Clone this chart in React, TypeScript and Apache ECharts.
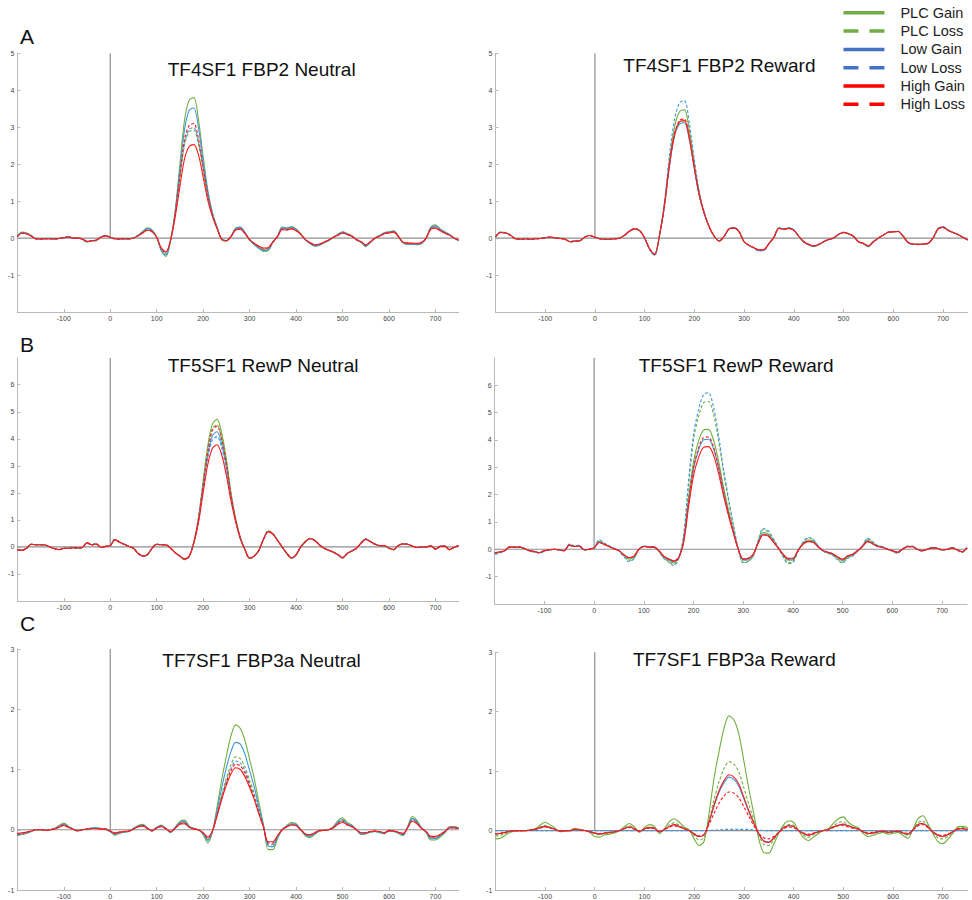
import React, { useEffect, useRef } from "react";
import * as echarts from "echarts";

// ---- time axis (ms), sampled every 10 ms from -200 to 750 ----
const TIMES: number[] = [];
for (let t = -200; t <= 750; t += 10) TIMES.push(t);

const SERIES_NAMES = ["PLC Gain", "PLC Loss", "Low Gain", "Low Loss", "High Gain", "High Loss"];
const PANEL_TITLES = [
  "TF4SF1 FBP2 Neutral", "TF4SF1 FBP2 Reward",
  "TF5SF1 RewP Neutral", "TF5SF1 RewP Reward",
  "TF7SF1 FBP3a Neutral", "TF7SF1 FBP3a Reward",
];
const ROW_LETTERS = ["A", "B", "C"];
const Y_MIN = [-2, -2, -2, -2, -1, -1];
const Y_MAX = [5, 5, 7, 7, 3, 3];
const X_MIN = -200;
const X_MAX = 750;

// ---------------- Panel A, Neutral ----------------
const AN_PLC_GAIN = [0.05, 0.16, 0.14, 0.07, -0.02, -0.03, -0.02, -0.02, -0.03, -0.01,
  0.01, 0.04, 0.00, 0.00, -0.03, -0.11, -0.08, -0.07, 0.03, 0.07,
  0.02, -0.02, -0.03, -0.02, -0.03, 0.00, 0.08, 0.18, 0.28, 0.22,
  0.02, -0.35, -0.50, -0.05, 0.77, 2.00, 3.20, 3.74, 3.80, 3.20,
  2.20, 1.30, 0.68, 0.30, -0.05, -0.08, 0.05, 0.27, 0.30, 0.15,
  -0.05, -0.18, -0.28, -0.36, -0.34, -0.12, 0.05, 0.30, 0.28, 0.31,
  0.25, 0.12, -0.05, -0.15, -0.22, -0.20, -0.13, -0.07, 0.02, 0.10,
  0.17, 0.12, 0.06, -0.05, -0.12, -0.23, -0.12, 0.00, 0.07, 0.15,
  0.17, 0.20, 0.05, -0.13, -0.17, -0.17, -0.18, -0.15, 0.00, 0.30,
  0.36, 0.25, 0.17, 0.10, 0.00, -0.07];
const AN_PLC_LOSS = [0.05, 0.14, 0.13, 0.06, -0.02, -0.03, -0.02, -0.02, -0.02, -0.01,
  0.01, 0.03, 0.00, 0.00, -0.03, -0.10, -0.07, -0.06, 0.03, 0.06,
  0.02, -0.02, -0.03, -0.02, -0.02, 0.00, 0.07, 0.16, 0.24, 0.19,
  0.02, -0.30, -0.42, -0.05, 0.65, 1.62, 2.52, 2.88, 2.92, 2.52,
  1.82, 1.12, 0.62, 0.27, -0.03, -0.07, 0.05, 0.25, 0.27, 0.14,
  -0.04, -0.16, -0.25, -0.31, -0.30, -0.11, 0.04, 0.26, 0.25, 0.28,
  0.23, 0.11, -0.04, -0.13, -0.20, -0.18, -0.12, -0.06, 0.02, 0.09,
  0.15, 0.11, 0.05, -0.04, -0.11, -0.20, -0.11, 0.00, 0.06, 0.13,
  0.15, 0.18, 0.05, -0.12, -0.15, -0.15, -0.16, -0.13, 0.00, 0.27,
  0.32, 0.23, 0.15, 0.09, 0.00, -0.06];
const AN_LOW_GAIN = [0.05, 0.15, 0.13, 0.06, -0.02, -0.03, -0.02, -0.02, -0.03, -0.01,
  0.01, 0.04, 0.00, 0.00, -0.03, -0.10, -0.08, -0.06, 0.03, 0.07,
  0.02, -0.02, -0.03, -0.02, -0.03, 0.00, 0.07, 0.17, 0.26, 0.21,
  0.02, -0.33, -0.46, -0.05, 0.72, 1.85, 2.95, 3.46, 3.52, 2.98,
  2.08, 1.25, 0.66, 0.29, -0.04, -0.08, 0.05, 0.26, 0.29, 0.14,
  -0.05, -0.17, -0.27, -0.34, -0.32, -0.11, 0.05, 0.28, 0.27, 0.30,
  0.24, 0.11, -0.05, -0.14, -0.21, -0.19, -0.12, -0.07, 0.02, 0.10,
  0.16, 0.11, 0.06, -0.05, -0.11, -0.22, -0.11, 0.00, 0.07, 0.14,
  0.16, 0.19, 0.05, -0.12, -0.16, -0.16, -0.17, -0.14, 0.00, 0.28,
  0.33, 0.24, 0.16, 0.10, 0.00, -0.07];
const AN_LOW_LOSS = [0.05, 0.14, 0.12, 0.06, -0.02, -0.03, -0.02, -0.02, -0.03, -0.01,
  0.01, 0.04, 0.00, 0.00, -0.03, -0.10, -0.07, -0.06, 0.03, 0.06,
  0.02, -0.02, -0.03, -0.02, -0.02, 0.00, 0.07, 0.16, 0.25, 0.20,
  0.02, -0.31, -0.44, -0.05, 0.66, 1.65, 2.58, 2.95, 2.98, 2.60,
  1.90, 1.15, 0.63, 0.27, -0.03, -0.07, 0.05, 0.25, 0.28, 0.14,
  -0.04, -0.16, -0.26, -0.33, -0.31, -0.11, 0.04, 0.27, 0.26, 0.29,
  0.23, 0.11, -0.05, -0.13, -0.20, -0.19, -0.12, -0.06, 0.02, 0.09,
  0.16, 0.11, 0.05, -0.05, -0.11, -0.21, -0.11, 0.00, 0.06, 0.14,
  0.15, 0.18, 0.05, -0.12, -0.15, -0.16, -0.16, -0.14, 0.00, 0.28,
  0.32, 0.23, 0.15, 0.09, 0.00, -0.06];
const AN_HIGH_GAIN = [0.04, 0.13, 0.11, 0.05, -0.02, -0.02, -0.02, -0.02, -0.02, -0.01,
  0.01, 0.03, 0.00, 0.00, -0.02, -0.09, -0.07, -0.05, 0.02, 0.06,
  0.02, -0.02, -0.02, -0.02, -0.02, 0.00, 0.06, 0.14, 0.21, 0.17,
  0.02, -0.27, -0.37, -0.05, 0.58, 1.40, 2.15, 2.48, 2.53, 2.25,
  1.65, 1.02, 0.58, 0.25, -0.03, -0.07, 0.04, 0.22, 0.24, 0.12,
  -0.04, -0.14, -0.22, -0.27, -0.26, -0.10, 0.04, 0.23, 0.22, 0.25,
  0.20, 0.10, -0.04, -0.12, -0.18, -0.16, -0.11, -0.05, 0.02, 0.08,
  0.13, 0.10, 0.05, -0.04, -0.10, -0.18, -0.10, 0.00, 0.05, 0.12,
  0.14, 0.16, 0.04, -0.11, -0.13, -0.14, -0.14, -0.12, 0.00, 0.24,
  0.27, 0.20, 0.13, 0.08, 0.00, -0.05];
const AN_HIGH_LOSS = [0.04, 0.13, 0.12, 0.06, -0.02, -0.03, -0.02, -0.02, -0.02, -0.01,
  0.01, 0.03, 0.00, 0.00, -0.03, -0.09, -0.07, -0.06, 0.02, 0.06,
  0.02, -0.02, -0.03, -0.02, -0.02, 0.00, 0.06, 0.15, 0.22, 0.18,
  0.02, -0.29, -0.38, -0.05, 0.68, 1.70, 2.68, 3.05, 3.10, 2.68,
  1.92, 1.16, 0.62, 0.27, -0.03, -0.07, 0.04, 0.23, 0.25, 0.13,
  -0.04, -0.15, -0.23, -0.28, -0.27, -0.10, 0.04, 0.24, 0.23, 0.26,
  0.21, 0.10, -0.04, -0.12, -0.18, -0.17, -0.11, -0.05, 0.02, 0.08,
  0.14, 0.10, 0.05, -0.04, -0.10, -0.19, -0.10, 0.00, 0.05, 0.12,
  0.14, 0.17, 0.04, -0.11, -0.14, -0.14, -0.15, -0.12, 0.00, 0.25,
  0.28, 0.21, 0.14, 0.08, 0.00, -0.05];

// ---------------- Panel A, Reward ----------------
const AR_PLC_GAIN = [0.03, 0.16, 0.15, 0.08, -0.02, -0.03, -0.02, -0.03, -0.02, -0.01,
  0.01, 0.03, 0.00, -0.01, -0.03, -0.10, -0.08, -0.07, 0.03, 0.07,
  0.02, -0.02, -0.03, -0.03, -0.02, 0.00, 0.08, 0.20, 0.26, 0.20,
  0.00, -0.30, -0.45, 0.09, 0.95, 2.10, 3.00, 3.42, 3.47, 2.90,
  2.00, 1.20, 0.68, 0.30, 0.05, -0.08, 0.05, 0.25, 0.28, 0.18,
  -0.10, -0.20, -0.27, -0.33, -0.32, -0.15, 0.02, 0.27, 0.25, 0.27,
  0.22, 0.05, -0.10, -0.18, -0.22, -0.18, -0.10, -0.04, 0.00, 0.10,
  0.15, 0.12, 0.05, -0.10, -0.15, -0.22, -0.10, 0.00, 0.08, 0.16,
  0.17, 0.18, 0.05, -0.12, -0.17, -0.17, -0.17, -0.15, 0.00, 0.25,
  0.30, 0.22, 0.15, 0.10, 0.02, -0.05];
const AR_PLC_LOSS = [0.03, 0.15, 0.15, 0.08, -0.02, -0.03, -0.02, -0.03, -0.02, -0.01,
  0.01, 0.03, 0.00, -0.01, -0.03, -0.10, -0.08, -0.07, 0.03, 0.07,
  0.02, -0.02, -0.03, -0.03, -0.02, 0.00, 0.08, 0.19, 0.25, 0.20,
  0.00, -0.30, -0.45, 0.08, 0.90, 1.98, 2.78, 3.12, 3.15, 2.68,
  1.88, 1.15, 0.66, 0.30, 0.05, -0.08, 0.05, 0.25, 0.28, 0.17,
  -0.10, -0.20, -0.27, -0.33, -0.32, -0.15, 0.02, 0.27, 0.25, 0.27,
  0.22, 0.05, -0.10, -0.18, -0.22, -0.18, -0.10, -0.04, 0.00, 0.10,
  0.15, 0.12, 0.05, -0.10, -0.15, -0.22, -0.10, 0.00, 0.08, 0.16,
  0.17, 0.18, 0.05, -0.12, -0.17, -0.17, -0.17, -0.15, 0.00, 0.25,
  0.30, 0.22, 0.15, 0.10, 0.02, -0.05];
const AR_LOW_GAIN = [0.03, 0.15, 0.14, 0.08, -0.02, -0.03, -0.02, -0.03, -0.02, -0.01,
  0.01, 0.03, 0.00, -0.01, -0.03, -0.10, -0.08, -0.07, 0.03, 0.07,
  0.02, -0.02, -0.03, -0.03, -0.02, 0.00, 0.08, 0.19, 0.25, 0.20,
  0.00, -0.30, -0.46, 0.08, 0.88, 1.95, 2.75, 3.08, 3.12, 2.65,
  1.86, 1.14, 0.65, 0.29, 0.05, -0.08, 0.05, 0.25, 0.28, 0.17,
  -0.10, -0.20, -0.27, -0.34, -0.33, -0.15, 0.02, 0.27, 0.25, 0.27,
  0.22, 0.05, -0.10, -0.18, -0.23, -0.18, -0.10, -0.04, 0.00, 0.10,
  0.15, 0.12, 0.05, -0.10, -0.15, -0.23, -0.10, 0.00, 0.08, 0.16,
  0.17, 0.18, 0.05, -0.12, -0.17, -0.17, -0.17, -0.15, 0.00, 0.25,
  0.30, 0.22, 0.15, 0.10, 0.02, -0.05];
const AR_LOW_LOSS = [0.03, 0.16, 0.15, 0.08, -0.02, -0.03, -0.02, -0.03, -0.02, -0.01,
  0.01, 0.03, 0.00, -0.01, -0.03, -0.10, -0.08, -0.07, 0.03, 0.07,
  0.02, -0.02, -0.03, -0.03, -0.02, 0.00, 0.08, 0.20, 0.26, 0.20,
  0.00, -0.31, -0.47, 0.10, 1.00, 2.25, 3.20, 3.66, 3.72, 3.10,
  2.12, 1.25, 0.70, 0.31, 0.05, -0.08, 0.05, 0.26, 0.29, 0.18,
  -0.10, -0.20, -0.28, -0.35, -0.33, -0.15, 0.02, 0.28, 0.26, 0.28,
  0.22, 0.05, -0.10, -0.18, -0.23, -0.18, -0.10, -0.04, 0.00, 0.10,
  0.16, 0.12, 0.05, -0.10, -0.15, -0.23, -0.10, 0.00, 0.08, 0.17,
  0.18, 0.19, 0.05, -0.12, -0.17, -0.18, -0.17, -0.15, 0.00, 0.26,
  0.31, 0.22, 0.15, 0.10, 0.02, -0.05];
const AR_HIGH_GAIN = [0.03, 0.15, 0.14, 0.08, -0.02, -0.03, -0.02, -0.03, -0.02, -0.01,
  0.01, 0.03, 0.00, -0.01, -0.03, -0.10, -0.08, -0.07, 0.03, 0.07,
  0.02, -0.02, -0.03, -0.03, -0.02, 0.00, 0.08, 0.19, 0.25, 0.20,
  0.00, -0.29, -0.44, 0.08, 0.90, 2.00, 2.80, 3.14, 3.18, 2.70,
  1.90, 1.16, 0.66, 0.30, 0.05, -0.08, 0.05, 0.25, 0.27, 0.17,
  -0.10, -0.19, -0.26, -0.32, -0.31, -0.15, 0.02, 0.26, 0.24, 0.26,
  0.21, 0.05, -0.10, -0.17, -0.21, -0.17, -0.10, -0.04, 0.00, 0.10,
  0.15, 0.11, 0.05, -0.10, -0.14, -0.21, -0.10, 0.00, 0.08, 0.16,
  0.17, 0.18, 0.05, -0.12, -0.16, -0.17, -0.16, -0.14, 0.00, 0.24,
  0.29, 0.21, 0.15, 0.10, 0.02, -0.05];
const AR_HIGH_LOSS = [0.03, 0.15, 0.14, 0.08, -0.02, -0.03, -0.02, -0.03, -0.02, -0.01,
  0.01, 0.03, 0.00, -0.01, -0.03, -0.10, -0.08, -0.07, 0.03, 0.07,
  0.02, -0.02, -0.03, -0.03, -0.02, 0.00, 0.08, 0.19, 0.25, 0.20,
  0.00, -0.29, -0.44, 0.08, 0.90, 2.00, 2.82, 3.18, 3.22, 2.72,
  1.90, 1.16, 0.66, 0.30, 0.05, -0.08, 0.05, 0.25, 0.27, 0.17,
  -0.10, -0.19, -0.26, -0.32, -0.31, -0.15, 0.02, 0.26, 0.24, 0.26,
  0.21, 0.05, -0.10, -0.17, -0.21, -0.17, -0.10, -0.04, 0.00, 0.10,
  0.15, 0.11, 0.05, -0.10, -0.14, -0.21, -0.10, 0.00, 0.08, 0.16,
  0.17, 0.18, 0.05, -0.12, -0.16, -0.17, -0.16, -0.14, 0.00, 0.24,
  0.29, 0.21, 0.15, 0.10, 0.02, -0.05];

// ---------------- Panel B, Neutral ----------------
const BN_PLC_GAIN = [-0.10, -0.12, -0.05, 0.10, 0.08, 0.08, 0.07, 0.00, -0.07, -0.10,
  -0.05, -0.05, -0.03, -0.04, -0.02, 0.16, 0.08, 0.11, -0.02, 0.02,
  0.05, 0.28, 0.18, 0.10, 0.02, -0.05, -0.25, -0.35, -0.30, -0.05,
  0.10, 0.08, 0.08, -0.05, -0.22, -0.35, -0.47, -0.35, 0.20, 1.10,
  2.45, 3.75, 4.55, 4.72, 4.20, 3.25, 2.00, 1.05, 0.35, -0.10,
  -0.43, -0.35, -0.12, 0.30, 0.60, 0.50, 0.25, 0.00, -0.25, -0.42,
  -0.30, 0.00, 0.20, 0.32, 0.25, 0.08, -0.05, -0.12, -0.20, -0.30,
  -0.42, -0.25, -0.15, -0.05, 0.15, 0.30, 0.20, 0.10, 0.05, 0.05,
  -0.05, -0.10, 0.05, 0.12, 0.10, 0.03, -0.02, 0.00, 0.00, 0.04,
  -0.08, 0.02, 0.03, -0.10, -0.02, 0.05];
const BN_PLC_LOSS = [-0.10, -0.12, -0.05, 0.10, 0.08, 0.08, 0.07, 0.00, -0.07, -0.10,
  -0.05, -0.05, -0.03, -0.04, -0.02, 0.15, 0.08, 0.11, -0.02, 0.02,
  0.05, 0.27, 0.18, 0.10, 0.02, -0.05, -0.24, -0.34, -0.29, -0.05,
  0.10, 0.08, 0.08, -0.05, -0.21, -0.34, -0.46, -0.34, 0.18, 1.05,
  2.35, 3.60, 4.38, 4.52, 4.02, 3.12, 1.95, 1.02, 0.34, -0.10,
  -0.42, -0.34, -0.12, 0.29, 0.58, 0.49, 0.25, 0.00, -0.24, -0.41,
  -0.29, 0.00, 0.20, 0.31, 0.25, 0.08, -0.05, -0.12, -0.20, -0.29,
  -0.41, -0.25, -0.15, -0.05, 0.15, 0.29, 0.20, 0.10, 0.05, 0.05,
  -0.05, -0.10, 0.05, 0.12, 0.10, 0.03, -0.02, 0.00, 0.00, 0.04,
  -0.08, 0.02, 0.03, -0.10, -0.02, 0.05];
const BN_LOW_GAIN = [-0.10, -0.12, -0.05, 0.10, 0.08, 0.08, 0.07, 0.00, -0.07, -0.10,
  -0.05, -0.05, -0.03, -0.04, -0.02, 0.15, 0.08, 0.11, -0.02, 0.02,
  0.05, 0.27, 0.18, 0.10, 0.02, -0.05, -0.24, -0.34, -0.29, -0.05,
  0.10, 0.08, 0.08, -0.05, -0.22, -0.35, -0.46, -0.35, 0.17, 1.00,
  2.25, 3.42, 4.12, 4.26, 3.80, 2.95, 1.85, 0.98, 0.33, -0.10,
  -0.42, -0.34, -0.12, 0.29, 0.57, 0.48, 0.24, 0.00, -0.24, -0.41,
  -0.29, 0.00, 0.19, 0.31, 0.24, 0.08, -0.05, -0.12, -0.19, -0.29,
  -0.40, -0.24, -0.15, -0.05, 0.14, 0.29, 0.19, 0.10, 0.05, 0.05,
  -0.05, -0.10, 0.05, 0.11, 0.10, 0.03, -0.02, 0.00, 0.00, 0.04,
  -0.08, 0.02, 0.03, -0.10, -0.02, 0.05];
const BN_LOW_LOSS = [-0.10, -0.12, -0.05, 0.10, 0.08, 0.08, 0.07, 0.00, -0.07, -0.10,
  -0.05, -0.05, -0.03, -0.04, -0.02, 0.15, 0.08, 0.11, -0.02, 0.02,
  0.05, 0.27, 0.18, 0.10, 0.02, -0.05, -0.24, -0.34, -0.29, -0.05,
  0.10, 0.08, 0.08, -0.05, -0.22, -0.35, -0.46, -0.35, 0.16, 0.98,
  2.20, 3.30, 3.96, 4.08, 3.66, 2.85, 1.80, 0.96, 0.32, -0.10,
  -0.42, -0.34, -0.12, 0.29, 0.57, 0.48, 0.24, 0.00, -0.24, -0.41,
  -0.29, 0.00, 0.19, 0.31, 0.24, 0.08, -0.05, -0.12, -0.19, -0.29,
  -0.40, -0.24, -0.15, -0.05, 0.14, 0.29, 0.19, 0.10, 0.05, 0.05,
  -0.05, -0.10, 0.05, 0.11, 0.10, 0.03, -0.02, 0.00, 0.00, 0.04,
  -0.08, 0.02, 0.03, -0.10, -0.02, 0.05];
const BN_HIGH_GAIN = [-0.10, -0.12, -0.05, 0.10, 0.08, 0.08, 0.07, 0.00, -0.07, -0.10,
  -0.05, -0.05, -0.03, -0.04, -0.02, 0.15, 0.08, 0.11, -0.02, 0.02,
  0.05, 0.26, 0.17, 0.10, 0.02, -0.05, -0.23, -0.33, -0.28, -0.05,
  0.10, 0.08, 0.07, -0.05, -0.21, -0.33, -0.44, -0.34, 0.14, 0.90,
  2.00, 3.05, 3.65, 3.78, 3.40, 2.65, 1.70, 0.92, 0.30, -0.10,
  -0.41, -0.33, -0.12, 0.28, 0.55, 0.47, 0.24, 0.00, -0.23, -0.40,
  -0.28, 0.00, 0.19, 0.30, 0.24, 0.08, -0.05, -0.12, -0.19, -0.28,
  -0.39, -0.24, -0.15, -0.05, 0.14, 0.28, 0.19, 0.10, 0.05, 0.05,
  -0.05, -0.10, 0.05, 0.11, 0.10, 0.03, -0.02, 0.00, 0.00, 0.04,
  -0.08, 0.02, 0.03, -0.10, -0.02, 0.05];
const BN_HIGH_LOSS = [-0.10, -0.12, -0.05, 0.10, 0.08, 0.08, 0.07, 0.00, -0.07, -0.10,
  -0.05, -0.05, -0.03, -0.04, -0.02, 0.15, 0.08, 0.11, -0.02, 0.02,
  0.05, 0.27, 0.18, 0.10, 0.02, -0.05, -0.24, -0.34, -0.29, -0.05,
  0.10, 0.08, 0.08, -0.05, -0.22, -0.34, -0.45, -0.34, 0.18, 1.04,
  2.30, 3.52, 4.32, 4.47, 3.98, 3.10, 1.92, 1.00, 0.34, -0.10,
  -0.42, -0.34, -0.12, 0.29, 0.58, 0.49, 0.25, 0.00, -0.24, -0.41,
  -0.29, 0.00, 0.20, 0.31, 0.25, 0.08, -0.05, -0.12, -0.20, -0.29,
  -0.41, -0.25, -0.15, -0.05, 0.15, 0.29, 0.20, 0.10, 0.05, 0.05,
  -0.05, -0.10, 0.05, 0.12, 0.10, 0.03, -0.02, 0.00, 0.00, 0.04,
  -0.08, 0.02, 0.03, -0.10, -0.02, 0.05];

// ---------------- Panel B, Reward ----------------
const BR_PLC_GAIN = [-0.14, -0.11, -0.05, 0.09, 0.08, 0.08, 0.02, -0.05, -0.09, -0.13,
  -0.06, -0.02, 0.00, -0.02, -0.05, 0.16, 0.11, 0.13, -0.02, 0.00,
  0.05, 0.28, 0.19, 0.11, 0.02, -0.05, -0.22, -0.36, -0.29, 0.00,
  0.11, 0.09, 0.09, -0.05, -0.28, -0.40, -0.50, -0.32, 0.35, 1.90,
  3.20, 3.95, 4.35, 4.38, 4.00, 3.25, 2.30, 1.45, 0.70, 0.00,
  -0.40, -0.38, -0.21, 0.26, 0.62, 0.56, 0.33, 0.06, -0.21, -0.40,
  -0.39, -0.06, 0.21, 0.34, 0.31, 0.11, -0.05, -0.12, -0.18, -0.32,
  -0.42, -0.28, -0.20, -0.06, 0.12, 0.33, 0.23, 0.12, 0.08, 0.00,
  -0.06, -0.12, 0.00, 0.10, 0.10, 0.00, -0.05, 0.00, 0.05, 0.04,
  -0.02, 0.00, 0.05, -0.02, -0.10, 0.05];
const BR_PLC_LOSS = [-0.17, -0.13, -0.06, 0.10, 0.09, 0.09, 0.03, -0.06, -0.10, -0.14,
  -0.06, -0.03, 0.00, -0.03, -0.06, 0.18, 0.12, 0.14, -0.03, 0.00,
  0.06, 0.33, 0.22, 0.12, 0.03, -0.06, -0.26, -0.42, -0.33, 0.00,
  0.12, 0.10, 0.09, -0.06, -0.31, -0.45, -0.56, -0.34, 0.45, 2.35,
  4.00, 4.85, 5.35, 5.40, 4.95, 4.00, 2.85, 1.80, 0.85, -0.02,
  -0.48, -0.43, -0.24, 0.30, 0.72, 0.64, 0.38, 0.07, -0.25, -0.49,
  -0.45, -0.07, 0.24, 0.40, 0.36, 0.13, -0.06, -0.14, -0.21, -0.37,
  -0.47, -0.31, -0.23, -0.07, 0.13, 0.38, 0.26, 0.13, 0.09, 0.00,
  -0.07, -0.14, 0.00, 0.11, 0.11, 0.00, -0.06, 0.00, 0.06, 0.05,
  -0.03, 0.00, 0.06, -0.03, -0.11, 0.06];
const BR_LOW_GAIN = [-0.13, -0.10, -0.05, 0.08, 0.07, 0.08, 0.02, -0.05, -0.08, -0.12,
  -0.05, -0.02, 0.00, -0.02, -0.05, 0.15, 0.10, 0.12, -0.02, 0.00,
  0.05, 0.26, 0.18, 0.10, 0.02, -0.05, -0.21, -0.32, -0.26, 0.00,
  0.10, 0.08, 0.08, -0.05, -0.26, -0.37, -0.45, -0.31, 0.30, 1.72,
  2.95, 3.62, 4.00, 4.02, 3.68, 3.00, 2.10, 1.32, 0.62, 0.00,
  -0.38, -0.35, -0.19, 0.24, 0.56, 0.51, 0.30, 0.05, -0.19, -0.36,
  -0.35, -0.05, 0.19, 0.30, 0.28, 0.10, -0.04, -0.11, -0.17, -0.29,
  -0.38, -0.25, -0.19, -0.05, 0.11, 0.30, 0.21, 0.11, 0.07, 0.00,
  -0.05, -0.11, 0.00, 0.09, 0.09, 0.00, -0.05, 0.00, 0.05, 0.04,
  -0.02, 0.00, 0.05, -0.02, -0.09, 0.05];
const BR_LOW_LOSS = [-0.18, -0.14, -0.06, 0.10, 0.09, 0.10, 0.03, -0.06, -0.10, -0.15,
  -0.07, -0.03, 0.00, -0.03, -0.06, 0.19, 0.13, 0.15, -0.03, 0.00,
  0.07, 0.35, 0.23, 0.13, 0.03, -0.07, -0.28, -0.45, -0.35, 0.00,
  0.12, 0.10, 0.10, -0.07, -0.33, -0.48, -0.60, -0.35, 0.50, 2.50,
  4.20, 5.10, 5.65, 5.72, 5.20, 4.20, 2.95, 1.90, 0.90, 0.00,
  -0.50, -0.45, -0.25, 0.32, 0.76, 0.68, 0.40, 0.07, -0.27, -0.52,
  -0.48, -0.07, 0.26, 0.43, 0.38, 0.14, -0.06, -0.15, -0.22, -0.40,
  -0.50, -0.33, -0.25, -0.07, 0.14, 0.40, 0.28, 0.14, 0.10, 0.00,
  -0.07, -0.15, 0.00, 0.12, 0.12, 0.00, -0.07, 0.00, 0.07, 0.05,
  -0.03, 0.00, 0.07, -0.03, -0.12, 0.06];
const BR_HIGH_GAIN = [-0.13, -0.10, -0.05, 0.08, 0.07, 0.08, 0.02, -0.05, -0.08, -0.12,
  -0.05, -0.02, 0.00, -0.02, -0.05, 0.15, 0.10, 0.12, -0.02, 0.00,
  0.05, 0.25, 0.18, 0.10, 0.02, -0.05, -0.20, -0.30, -0.25, 0.00,
  0.10, 0.08, 0.08, -0.05, -0.25, -0.35, -0.42, -0.30, 0.25, 1.55,
  2.70, 3.35, 3.72, 3.75, 3.45, 2.80, 1.98, 1.25, 0.60, 0.00,
  -0.35, -0.33, -0.18, 0.22, 0.52, 0.48, 0.28, 0.05, -0.18, -0.33,
  -0.33, -0.05, 0.18, 0.28, 0.26, 0.10, -0.04, -0.11, -0.16, -0.28,
  -0.36, -0.24, -0.18, -0.05, 0.10, 0.28, 0.20, 0.10, 0.07, 0.00,
  -0.05, -0.11, 0.00, 0.09, 0.09, 0.00, -0.05, 0.00, 0.05, 0.04,
  -0.02, 0.00, 0.05, -0.02, -0.09, 0.05];
const BR_HIGH_LOSS = [-0.13, -0.10, -0.05, 0.08, 0.07, 0.08, 0.02, -0.05, -0.08, -0.12,
  -0.05, -0.02, 0.00, -0.02, -0.05, 0.15, 0.10, 0.12, -0.02, 0.00,
  0.05, 0.26, 0.18, 0.10, 0.02, -0.05, -0.21, -0.31, -0.26, 0.00,
  0.10, 0.08, 0.08, -0.05, -0.26, -0.36, -0.44, -0.31, 0.30, 1.75,
  3.00, 3.70, 4.08, 4.10, 3.75, 3.05, 2.15, 1.35, 0.65, 0.00,
  -0.37, -0.34, -0.19, 0.23, 0.54, 0.50, 0.29, 0.05, -0.19, -0.35,
  -0.34, -0.05, 0.19, 0.29, 0.27, 0.10, -0.04, -0.11, -0.17, -0.29,
  -0.37, -0.25, -0.19, -0.05, 0.11, 0.29, 0.21, 0.11, 0.07, 0.00,
  -0.05, -0.11, 0.00, 0.09, 0.09, 0.00, -0.05, 0.00, 0.05, 0.04,
  -0.02, 0.00, 0.05, -0.02, -0.09, 0.05];

// ---------------- Panel C, Neutral ----------------
const CN_PLC_GAIN = [-0.10, -0.08, -0.06, -0.03, 0.00, 0.00, -0.01, 0.00, 0.02, 0.07,
  0.11, 0.06, 0.01, -0.02, 0.00, 0.01, 0.03, 0.03, 0.02, 0.01,
  -0.03, -0.09, -0.06, -0.04, -0.03, 0.02, 0.07, 0.09, 0.03, -0.02,
  0.04, 0.08, 0.02, -0.05, 0.04, 0.14, 0.16, 0.06, 0.02, 0.00,
  -0.08, -0.22, -0.03, 0.38, 0.83, 1.22, 1.56, 1.74, 1.68, 1.48,
  1.17, 0.85, 0.45, 0.08, -0.33, -0.33, -0.15, 0.00, 0.07, 0.12,
  0.10, 0.00, -0.10, -0.13, -0.08, -0.02, -0.01, 0.00, 0.05, 0.15,
  0.20, 0.12, 0.08, 0.00, -0.08, -0.07, -0.04, -0.03, -0.05, -0.07,
  -0.02, -0.03, -0.06, -0.10, 0.05, 0.22, 0.16, 0.03, -0.05, -0.17,
  -0.17, -0.12, -0.05, 0.05, 0.05, 0.03];
const CN_PLC_LOSS = [-0.08, -0.07, -0.05, -0.02, 0.00, 0.00, -0.01, 0.00, 0.02, 0.05,
  0.09, 0.05, 0.01, -0.02, 0.00, 0.01, 0.02, 0.03, 0.02, 0.01,
  -0.03, -0.07, -0.05, -0.03, -0.02, 0.02, 0.06, 0.08, 0.03, -0.02,
  0.03, 0.07, 0.02, -0.04, 0.03, 0.12, 0.13, 0.05, 0.02, 0.00,
  -0.06, -0.16, -0.02, 0.27, 0.58, 0.86, 1.08, 1.21, 1.18, 1.04,
  0.82, 0.60, 0.32, 0.05, -0.24, -0.25, -0.12, 0.00, 0.05, 0.09,
  0.08, 0.00, -0.08, -0.10, -0.06, -0.02, -0.01, 0.00, 0.04, 0.12,
  0.16, 0.10, 0.06, 0.00, -0.06, -0.06, -0.03, -0.03, -0.04, -0.06,
  -0.02, -0.03, -0.05, -0.08, 0.04, 0.18, 0.13, 0.03, -0.04, -0.14,
  -0.14, -0.10, -0.04, 0.04, 0.04, 0.03];
const CN_LOW_GAIN = [-0.09, -0.07, -0.05, -0.03, 0.00, 0.00, -0.01, 0.00, 0.02, 0.06,
  0.09, 0.05, 0.01, -0.02, 0.00, 0.01, 0.03, 0.03, 0.02, 0.01,
  -0.03, -0.08, -0.05, -0.04, -0.03, 0.02, 0.06, 0.08, 0.03, -0.02,
  0.04, 0.07, 0.02, -0.04, 0.04, 0.12, 0.14, 0.05, 0.02, 0.00,
  -0.07, -0.18, -0.03, 0.32, 0.70, 1.03, 1.30, 1.45, 1.42, 1.25,
  0.98, 0.71, 0.37, 0.06, -0.27, -0.28, -0.13, 0.00, 0.06, 0.10,
  0.09, 0.00, -0.09, -0.11, -0.07, -0.02, -0.01, 0.00, 0.04, 0.13,
  0.17, 0.10, 0.07, 0.00, -0.07, -0.06, -0.04, -0.03, -0.04, -0.06,
  -0.02, -0.03, -0.05, -0.09, 0.04, 0.19, 0.14, 0.03, -0.04, -0.15,
  -0.15, -0.10, -0.04, 0.04, 0.05, 0.03];
const CN_LOW_LOSS = [-0.08, -0.07, -0.05, -0.02, 0.00, 0.00, -0.01, 0.00, 0.02, 0.05,
  0.08, 0.05, 0.01, -0.02, 0.00, 0.01, 0.02, 0.03, 0.02, 0.01,
  -0.03, -0.07, -0.05, -0.03, -0.02, 0.02, 0.05, 0.07, 0.03, -0.02,
  0.03, 0.06, 0.02, -0.04, 0.03, 0.11, 0.12, 0.05, 0.02, 0.00,
  -0.06, -0.16, -0.02, 0.26, 0.55, 0.81, 1.02, 1.14, 1.11, 0.98,
  0.77, 0.56, 0.30, 0.05, -0.24, -0.24, -0.11, 0.00, 0.05, 0.09,
  0.08, 0.00, -0.08, -0.10, -0.06, -0.02, -0.01, 0.00, 0.04, 0.11,
  0.15, 0.09, 0.06, 0.00, -0.06, -0.05, -0.03, -0.02, -0.04, -0.05,
  -0.02, -0.02, -0.05, -0.08, 0.04, 0.17, 0.12, 0.03, -0.04, -0.13,
  -0.13, -0.09, -0.04, 0.04, 0.04, 0.03];
const CN_HIGH_GAIN = [-0.06, -0.05, -0.04, -0.02, 0.00, 0.00, -0.01, 0.00, 0.01, 0.04,
  0.07, 0.04, 0.01, -0.01, 0.00, 0.01, 0.02, 0.02, 0.01, 0.01,
  -0.02, -0.05, -0.04, -0.03, -0.02, 0.01, 0.05, 0.06, 0.02, -0.01,
  0.03, 0.05, 0.01, -0.03, 0.03, 0.09, 0.10, 0.04, 0.01, 0.00,
  -0.05, -0.12, -0.02, 0.23, 0.50, 0.74, 0.93, 1.03, 1.00, 0.88,
  0.70, 0.50, 0.26, 0.04, -0.20, -0.20, -0.10, 0.00, 0.05, 0.08,
  0.07, 0.00, -0.07, -0.08, -0.05, -0.01, -0.01, 0.00, 0.03, 0.09,
  0.12, 0.08, 0.05, 0.00, -0.05, -0.05, -0.03, -0.02, -0.03, -0.05,
  -0.01, -0.02, -0.04, -0.06, 0.03, 0.14, 0.10, 0.02, -0.03, -0.11,
  -0.11, -0.08, -0.03, 0.03, 0.03, 0.02];
const CN_HIGH_LOSS = [-0.07, -0.06, -0.04, -0.02, 0.00, 0.00, -0.01, 0.00, 0.01, 0.05,
  0.08, 0.04, 0.01, -0.02, 0.00, 0.01, 0.02, 0.02, 0.02, 0.01,
  -0.02, -0.06, -0.04, -0.03, -0.02, 0.01, 0.05, 0.07, 0.02, -0.02,
  0.03, 0.06, 0.02, -0.03, 0.03, 0.10, 0.11, 0.04, 0.02, 0.00,
  -0.05, -0.14, -0.02, 0.25, 0.53, 0.78, 0.98, 1.09, 1.06, 0.94,
  0.74, 0.53, 0.28, 0.04, -0.22, -0.22, -0.10, 0.00, 0.05, 0.08,
  0.07, 0.00, -0.07, -0.09, -0.05, -0.02, -0.01, 0.00, 0.04, 0.10,
  0.14, 0.08, 0.05, 0.00, -0.05, -0.05, -0.03, -0.02, -0.03, -0.05,
  -0.02, -0.02, -0.04, -0.07, 0.03, 0.15, 0.11, 0.02, -0.03, -0.12,
  -0.12, -0.08, -0.03, 0.03, 0.04, 0.02];

// ---------------- Panel C, Reward ----------------
const CR_PLC_GAIN = [-0.14, -0.13, -0.08, -0.03, -0.01, 0.00, 0.00, 0.01, 0.03, 0.09,
  0.14, 0.10, 0.04, -0.02, -0.01, 0.00, 0.04, 0.02, 0.00, -0.03,
  -0.10, -0.11, -0.07, -0.06, -0.04, 0.00, 0.07, 0.12, 0.06, -0.03,
  0.05, 0.10, 0.07, -0.05, 0.03, 0.15, 0.20, 0.14, 0.06, 0.01,
  -0.14, -0.25, -0.18, 0.30, 0.88, 1.33, 1.72, 1.93, 1.86, 1.62,
  1.17, 0.70, 0.28, -0.14, -0.37, -0.38, -0.23, -0.05, 0.10, 0.16,
  0.14, 0.00, -0.12, -0.17, -0.11, -0.05, 0.00, 0.03, 0.12, 0.20,
  0.23, 0.14, 0.08, 0.05, -0.05, -0.10, -0.08, -0.05, -0.03, -0.06,
  -0.05, -0.03, -0.08, -0.13, 0.02, 0.20, 0.25, 0.12, -0.05, -0.18,
  -0.22, -0.15, -0.05, 0.06, 0.07, 0.05];
const CR_PLC_LOSS = [-0.09, -0.08, -0.05, -0.02, -0.01, 0.00, 0.00, 0.01, 0.02, 0.06,
  0.09, 0.06, 0.03, -0.01, -0.01, 0.00, 0.03, 0.01, 0.00, -0.02,
  -0.06, -0.07, -0.05, -0.04, -0.03, 0.00, 0.05, 0.08, 0.04, -0.02,
  0.03, 0.06, 0.05, -0.03, 0.02, 0.10, 0.13, 0.09, 0.04, 0.01,
  -0.09, -0.16, -0.12, 0.18, 0.52, 0.82, 1.04, 1.16, 1.12, 0.98,
  0.72, 0.44, 0.17, -0.08, -0.23, -0.25, -0.16, -0.03, 0.06, 0.10,
  0.09, 0.00, -0.08, -0.11, -0.07, -0.03, 0.00, 0.02, 0.08, 0.13,
  0.15, 0.09, 0.05, 0.03, -0.03, -0.06, -0.05, -0.03, -0.02, -0.04,
  -0.03, -0.02, -0.05, -0.08, 0.01, 0.13, 0.16, 0.08, -0.03, -0.12,
  -0.14, -0.10, -0.03, 0.04, 0.05, 0.03];
const CR_LOW_GAIN = [-0.06, -0.05, -0.03, -0.01, 0.00, 0.00, 0.00, 0.01, 0.02, 0.05,
  0.07, 0.05, 0.02, -0.01, 0.00, 0.00, 0.02, 0.01, 0.00, -0.02,
  -0.04, -0.06, -0.04, -0.03, -0.02, 0.00, 0.04, 0.06, 0.03, -0.01,
  0.03, 0.05, 0.04, -0.02, 0.02, 0.07, 0.10, 0.07, 0.03, 0.00,
  -0.06, -0.10, -0.07, 0.14, 0.41, 0.64, 0.80, 0.90, 0.86, 0.74,
  0.53, 0.31, 0.12, -0.06, -0.17, -0.19, -0.12, -0.03, 0.05, 0.08,
  0.07, 0.00, -0.05, -0.08, -0.05, -0.02, 0.00, 0.02, 0.06, 0.09,
  0.10, 0.08, 0.05, 0.03, -0.02, -0.05, -0.04, -0.02, -0.01, -0.03,
  -0.02, -0.01, -0.04, -0.06, 0.01, 0.10, 0.12, 0.06, -0.02, -0.08,
  -0.10, -0.07, -0.02, 0.03, 0.03, 0.02];
const CR_LOW_LOSS = [0.00, 0.00, 0.00, 0.00, 0.00, 0.00, 0.00, 0.00, 0.00, 0.00,
  0.00, 0.00, 0.00, 0.00, 0.00, 0.00, 0.00, 0.00, 0.00, 0.00,
  0.00, 0.00, 0.00, 0.00, 0.00, 0.00, 0.00, 0.00, 0.00, 0.00,
  0.00, 0.00, 0.00, 0.00, 0.00, 0.00, 0.00, 0.00, 0.00, 0.00,
  0.00, 0.00, 0.00, 0.00, 0.01, 0.01, 0.02, 0.02, 0.02, 0.02,
  0.02, 0.02, 0.01, 0.01, 0.00, 0.00, 0.00, 0.00, 0.00, 0.00,
  0.00, 0.00, 0.00, 0.00, 0.00, 0.00, 0.00, 0.00, 0.00, 0.00,
  0.00, 0.00, 0.00, 0.00, 0.00, 0.00, 0.00, 0.00, 0.00, 0.00,
  0.00, 0.00, 0.00, 0.00, 0.00, 0.00, 0.00, 0.00, 0.00, 0.00,
  0.00, 0.00, 0.00, 0.00, 0.00, 0.00];
const CR_HIGH_GAIN = [-0.06, -0.05, -0.03, -0.01, 0.00, 0.00, 0.00, 0.01, 0.02, 0.05,
  0.07, 0.05, 0.02, -0.01, 0.00, 0.00, 0.02, 0.01, 0.00, -0.02,
  -0.04, -0.06, -0.04, -0.03, -0.02, 0.00, 0.04, 0.06, 0.03, -0.01,
  0.03, 0.05, 0.04, -0.02, 0.02, 0.07, 0.10, 0.07, 0.03, 0.00,
  -0.06, -0.10, -0.07, 0.15, 0.43, 0.67, 0.84, 0.94, 0.90, 0.78,
  0.56, 0.33, 0.13, -0.05, -0.18, -0.20, -0.13, -0.03, 0.05, 0.08,
  0.07, 0.00, -0.05, -0.08, -0.05, -0.02, 0.00, 0.02, 0.06, 0.09,
  0.11, 0.08, 0.05, 0.03, -0.02, -0.05, -0.04, -0.02, -0.01, -0.03,
  -0.02, -0.01, -0.04, -0.06, 0.01, 0.10, 0.12, 0.06, -0.02, -0.08,
  -0.10, -0.07, -0.02, 0.03, 0.03, 0.02];
const CR_HIGH_LOSS = [-0.05, -0.04, -0.03, -0.01, 0.00, 0.00, 0.00, 0.01, 0.02, 0.04,
  0.06, 0.04, 0.02, -0.01, 0.00, 0.00, 0.02, 0.01, 0.00, -0.02,
  -0.04, -0.05, -0.04, -0.03, -0.02, 0.00, 0.03, 0.05, 0.02, -0.01,
  0.02, 0.04, 0.03, -0.02, 0.01, 0.06, 0.08, 0.06, 0.03, 0.00,
  -0.05, -0.09, -0.06, 0.10, 0.29, 0.46, 0.58, 0.65, 0.63, 0.55,
  0.40, 0.24, 0.08, -0.05, -0.12, -0.14, -0.10, -0.03, 0.03, 0.06,
  0.05, 0.00, -0.04, -0.06, -0.04, -0.02, 0.00, 0.01, 0.05, 0.08,
  0.09, 0.06, 0.04, 0.02, -0.02, -0.04, -0.03, -0.02, -0.01, -0.02,
  -0.02, -0.01, -0.03, -0.05, 0.01, 0.08, 0.10, 0.05, -0.02, -0.07,
  -0.08, -0.06, -0.02, 0.02, 0.03, 0.02];

// panel order: A-Neutral, A-Reward, B-Neutral, B-Reward, C-Neutral, C-Reward
// series order within panel follows SERIES_NAMES
const PANEL_DATA = [
  [AN_PLC_GAIN, AN_PLC_LOSS, AN_LOW_GAIN, AN_LOW_LOSS, AN_HIGH_GAIN, AN_HIGH_LOSS],
  [AR_PLC_GAIN, AR_PLC_LOSS, AR_LOW_GAIN, AR_LOW_LOSS, AR_HIGH_GAIN, AR_HIGH_LOSS],
  [BN_PLC_GAIN, BN_PLC_LOSS, BN_LOW_GAIN, BN_LOW_LOSS, BN_HIGH_GAIN, BN_HIGH_LOSS],
  [BR_PLC_GAIN, BR_PLC_LOSS, BR_LOW_GAIN, BR_LOW_LOSS, BR_HIGH_GAIN, BR_HIGH_LOSS],
  [CN_PLC_GAIN, CN_PLC_LOSS, CN_LOW_GAIN, CN_LOW_LOSS, CN_HIGH_GAIN, CN_HIGH_LOSS],
  [CR_PLC_GAIN, CR_PLC_LOSS, CR_LOW_GAIN, CR_LOW_LOSS, CR_HIGH_GAIN, CR_HIGH_LOSS],
];

// ---- styling / layout ----
const FONT = "'Liberation Sans', Arial, Helvetica, sans-serif";
const PLOT_COLORS = ["#72AE3F", "#72AE3F", "#3F97DD", "#3F97DD", "#FF1A1A", "#FF1A1A"];
const LEGEND_COLORS = ["#70AD47", "#70AD47", "#4472C4", "#4472C4", "#FF0000", "#FF0000"];
const IS_DASHED = [false, true, false, true, false, true];

const GRIDS = [
  { left: 17.3, top: 53.3, width: 441.4, height: 258.7 },
  { left: 495.5, top: 53.3, width: 472.3, height: 258.7 },
  { left: 17.3, top: 357.7, width: 441.4, height: 243.3 },
  { left: 494.7, top: 357.7, width: 472.3, height: 246.3 },
  { left: 17.3, top: 649, width: 441.4, height: 241.7 },
  { left: 495.3, top: 652.3, width: 472.3, height: 239 },
];
const TITLE_POS = [
  { left: 167.7, top: 59.5 },
  { left: 623.3, top: 56 },
  { left: 167.7, top: 356 },
  { left: 638.7, top: 356 },
  { left: 162.3, top: 651 },
  { left: 633, top: 650 },
];
const LETTER_POS = [
  { x: 20, y: 36 },
  { x: 20, y: 344 },
  { x: 20, y: 623 },
];

function buildOption() {
  const axisColor = "#b9b9b9";
  const grid = GRIDS.map((g) => ({ ...g, containLabel: false }));
  const xAxis = GRIDS.map((_, i) => ({
    type: "value",
    gridIndex: i,
    min: X_MIN,
    max: X_MAX,
    interval: 100,
    axisLine: { show: true, onZero: false, lineStyle: { color: axisColor, width: 1 } },
    axisTick: { show: true, inside: true, length: 3, lineStyle: { color: axisColor } },
    axisLabel: {
      fontSize: 7, color: "#444", margin: 3, fontFamily: FONT,
      showMinLabel: false, showMaxLabel: false,
    },
    splitLine: { show: false },
  }));
  const yAxis = GRIDS.map((_, i) => ({
    type: "value",
    gridIndex: i,
    min: Y_MIN[i],
    max: Y_MAX[i],
    interval: 1,
    axisLine: { show: true, onZero: false, lineStyle: { color: axisColor, width: 1 } },
    axisTick: { show: true, inside: true, length: 3, lineStyle: { color: axisColor } },
    axisLabel: {
      fontSize: 7, color: "#444", margin: 3, fontFamily: FONT,
      showMinLabel: Y_MIN[i] === -1,
      showMaxLabel: Y_MAX[i] !== 7,
    },
    splitLine: { show: false },
  }));

  const series: any[] = [];
  PANEL_DATA.forEach((panel, i) => {
    series.push({
      type: "line",
      name: "zero-line-" + i,
      xAxisIndex: i, yAxisIndex: i,
      data: [[X_MIN, 0], [X_MAX, 0]],
      symbol: "none", silent: true, z: 1,
      lineStyle: { color: "#8f8f8f", width: 1.2 },
    });
    series.push({
      type: "line",
      name: "onset-line-" + i,
      xAxisIndex: i, yAxisIndex: i,
      data: [[0, 0], [0, Y_MAX[i]]],
      symbol: "none", silent: true, z: 1,
      lineStyle: { color: "#8f8f8f", width: 1.2 },
    });
    panel.forEach((vals, k) => {
      series.push({
        type: "line",
        name: SERIES_NAMES[k],
        xAxisIndex: i, yAxisIndex: i,
        data: TIMES.map((t, j) => [t, vals[j]]),
        symbol: "none",
        showSymbol: false,
        smooth: 0.3,
        z: 2,
        color: PLOT_COLORS[k],
        lineStyle: {
          color: PLOT_COLORS[k],
          width: 1.1,
          type: IS_DASHED[k] ? [3, 2] : "solid",
        },
      });
    });
  });

  const title = PANEL_TITLES.map((text, i) => ({
    text,
    left: TITLE_POS[i].left,
    top: TITLE_POS[i].top,
    padding: 0,
    textStyle: { fontSize: 19, fontWeight: "normal", color: "#111", fontFamily: FONT },
  }));

  const legend = {
    orient: "vertical",
    left: 841.7,
    top: 5.3,
    padding: 0,
    itemWidth: 41,
    itemHeight: 14,
    itemGap: 3.3,
    selectedMode: false,
    textStyle: { fontSize: 14.5, color: "#222", fontFamily: FONT, padding: [0, 0, 0, 11] },
    data: SERIES_NAMES.map((name, k) => ({
      name,
      lineStyle: {
        color: LEGEND_COLORS[k],
        width: 3.5,
        type: IS_DASHED[k] ? [15, 11] : "solid",
        opacity: 1,
      },
      itemStyle: { opacity: 0 },
    })),
  };

  const graphic = ROW_LETTERS.map((L, r) => ({
    type: "text",
    x: LETTER_POS[r].x,
    y: LETTER_POS[r].y,
    style: {
      text: L, fontSize: 21, fill: "#111", fontFamily: FONT,
      textAlign: "left", textVerticalAlign: "middle",
    },
  }));

  return {
    animation: false,
    backgroundColor: "#ffffff",
    grid, xAxis, yAxis, series, title, legend, graphic,
  };
}

export default function App() {
  const ref = useRef<HTMLDivElement>(null);
  useEffect(() => {
    if (!ref.current) return;
    const chart = echarts.init(ref.current, undefined, { renderer: "svg" });
    chart.setOption(buildOption() as any);
    return () => chart.dispose();
  }, []);
  return (
    <div
      ref={ref}
      style={{ position: "fixed", left: 0, top: 0, width: 972, height: 900, background: "#fff" }}
    />
  );
}
